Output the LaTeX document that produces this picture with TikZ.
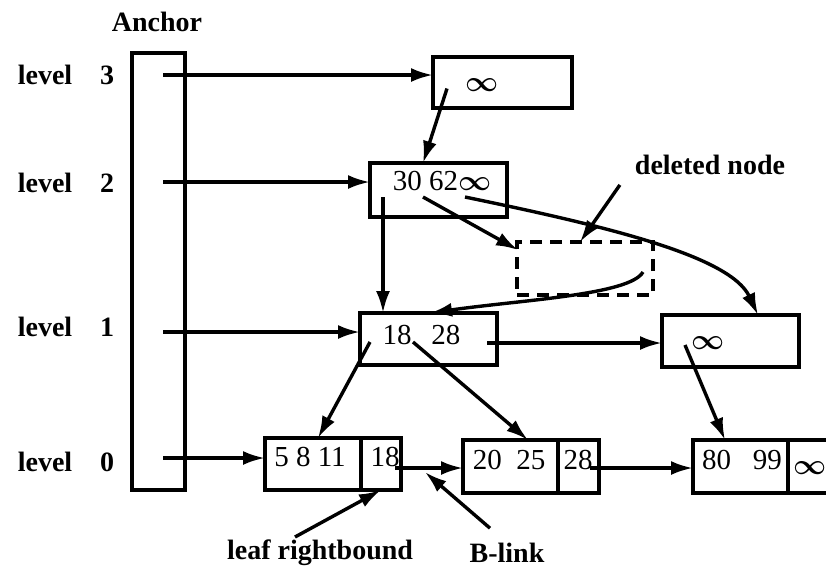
\documentclass[tikz,border=0pt]{standalone}
\usepackage{fontspec}
\setmainfont{Liberation Serif}
\usepackage{amsmath}
\usetikzlibrary{arrows.meta,positioning}
\tikzset{font={\fontsize{14.5pt}{16}\selectfont}}
\tikzset{
  box/.style={draw,line width=1.6pt,inner sep=0pt,outer sep=0pt},
  lbl/.style={font={\fontsize{14pt}{16}\selectfont\bfseries}},
  link/.style={-{Latex[length=11pt,width=7pt]},line width=1.7pt},
}
\newcommand{\infsym}{{\boldmath$\infty$}}

\begin{document}
\begin{tikzpicture}[x=0.5pt,y=-0.5pt]
\useasboundingbox (0,0) rectangle (826,570);

%anchor
\node[box,minimum width=26.5pt,minimum height=218.5pt] at (158.5,271.5) (anc) {};
\node[lbl] at (157,22) (ancl) {Anchor};

%level labels
\node[lbl] at (66,75) (lv3) {level\quad 3};
\node[lbl] at (66,183) (lv2) {level\quad 2};
\node[lbl] at (66,327) (lv1) {level\quad 1};
\node[lbl] at (66,462) (lv0) {level\quad 0};

%index nodes
\node[box,minimum width=69.5pt,minimum height=25.5pt] at (502.5,82.5) (n3) {};
\node[box,minimum width=68.5pt,minimum height=27pt] at (438.5,190) (n2) {};
\node[box,minimum width=68.5pt,minimum height=26pt] at (428.5,339) (n1) {};
\node[box,minimum width=68.5pt,minimum height=26pt] at (730.5,341) (n1r) {};
\node[box,dash pattern=on 6pt off 4pt,minimum width=68pt,minimum height=26.5pt] at (585,268.5) (del) {};

\node at (482,85) (t3) {\infsym};
\node at (442,181) (t2) {30 62\infsym};
\node at (421.5,335) (t1) {18\hspace{10pt}28};
\node at (708,343) (t1r) {\infsym};

%leaves
\node[box,minimum width=48pt,minimum height=26pt] at (313,464) (k0) {};
\node[box,minimum width=20pt,minimum height=26pt,right=0pt of k0] (b0) {};
\node[box,minimum width=47.5pt,minimum height=26.5pt] at (510.5,466.5) (k1) {};
\node[box,minimum width=20.5pt,minimum height=26.5pt,right=0pt of k1] (b1) {};
\node[box,minimum width=47.5pt,minimum height=26.5pt] at (740.5,466.5) (k2) {};
\node[box,minimum width=22pt,minimum height=26.5pt,right=0pt of k2] (b2) {};

\node at (310,457) (s0) {5 8 11};
\node at (385,457) (s0b) {18};
\node at (509,460) (s1) {20\ \ 25};
\node at (578,460) (s1b) {28};
\node at (742,460) (s2) {80\hspace{11pt}99};
\node at (810,468) (s2b) {\infsym};

%pointers from anchor
\foreach \y/\n in {75/n3,182/n2,332/n1,458/k0}{
  \coordinate (a-\n) at (163,\y);
  \draw[link] (a-\n) -- (a-\n -| \n.west);
}

%tree pointers
\draw[link] ([shift={(14,6)}]n3.west) -- ([shift={(53,0)}]n2.north west);
\draw[link] ([shift={(13,7)}]n2.west) -- ([shift={(23,0)}]n1.north west);
\draw[link] ([shift={(53,7)}]n2.west) -- ([shift={(1,8)}]del.north west);
\draw[link] ([shift={(95,7)}]n2.west) .. controls (600,225) and (730,255) .. ([shift={(96,0)}]n1r.north west);
\draw[link] ([shift={(126,3.5)}]del.west) .. controls (630,295) and (520,300) .. ([shift={(70,0)}]n1.north west);
\coordinate (p1) at ([shift={(-10,4)}]n1.east);
\draw[link] (p1) -- (p1 -| n1r.west);
\draw[link] ([shift={(10,3)}]n1.west) -- ([shift={(53,0)}]k0.north west);
\draw[link] ([shift={(53,3)}]n1.west) -- ([shift={(65,0)}]k1.north west);
\draw[link] ([shift={(23,4)}]n1r.west) -- ([shift={(32,0)}]k2.north west);

%B-links
\coordinate (p0) at ([shift={(-6,4)}]b0.east);
\draw[link] (p0) -- coordinate[pos=.44] (blk) (p0 -| k1.west);
\coordinate (q0) at ([shift={(-9,1.5)}]b1.east);
\draw[link] (q0) -- (q0 -| k2.west);

%labels with arrows
\node[lbl] at (710,165) (dn) {deleted node};
\node[lbl] at (320,553) (lrb) {leaf rightbound};
\node[lbl] at (507,553) (bl) {B-link};
\draw[link] ([shift={(-8,3)}]dn.south west) -- ([shift={(-5,0)}]del.north);
\draw[link] ([shift={(-25,4)}]lrb.north) -- (b0.south);
\draw[link] ([shift={(-17,-8)}]bl.north) -- ([shift={(0,4)}]blk);

\end{tikzpicture}
\end{document}
